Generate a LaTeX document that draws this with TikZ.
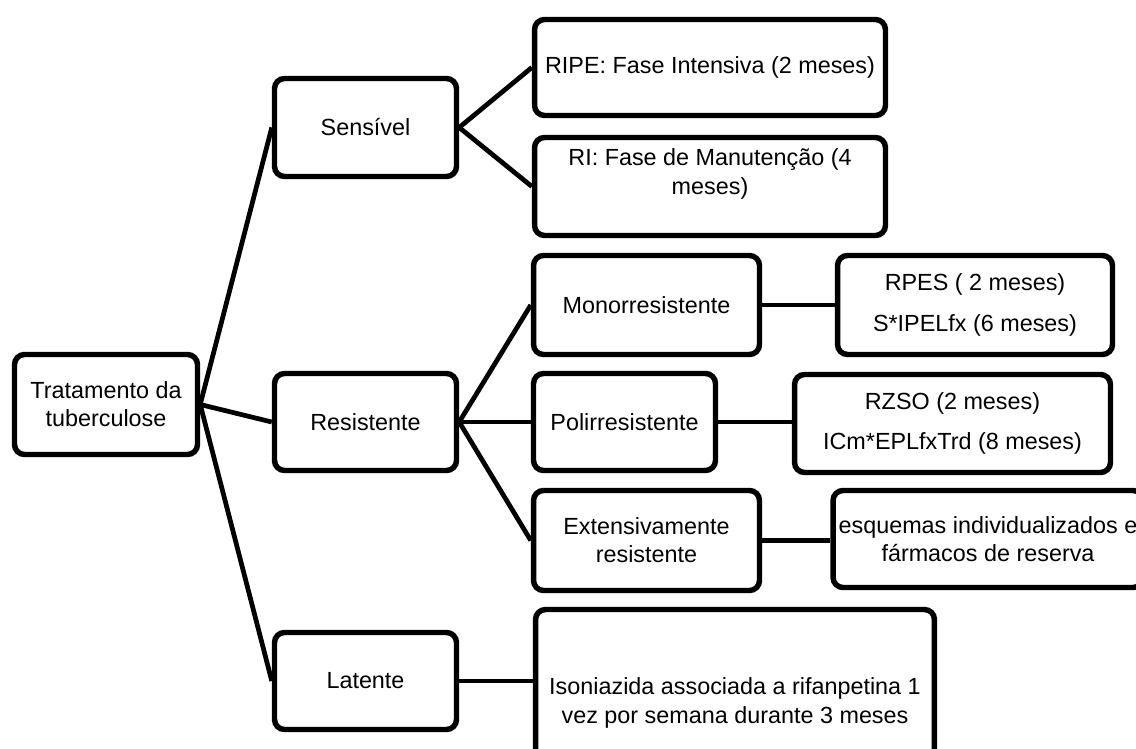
\documentclass[tikz,border=0pt]{standalone}
\usepackage{fontspec}
\setmainfont{Liberation Sans}
\usepackage{tikz}

\begin{document}
\begin{tikzpicture}[x=0.02cm,y=-0.02cm,
box/.style={draw,line width=3.1pt,rounded corners=0.2cm,align=center,inner sep=2pt,font=\fontsize{13.3}{16}\selectfont},
txt/.style={align=center,inner sep=0pt,font=\fontsize{13.3}{16}\selectfont},
link/.style={line width=2.7pt}]
\useasboundingbox (0,0) rectangle (1136,749);

\node[box,minimum width=3.66cm,minimum height=2cm] (root) at (106,404.5) {Tratamento da\\tuberculose};

\node[box,minimum width=3.64cm,minimum height=1.96cm] (sens) at (365.5,127.5) {Sensível};
\node[box,minimum width=3.64cm,minimum height=1.94cm] (res) at (365.5,422) {Resistente};
\node[box,minimum width=3.64cm,minimum height=1.94cm] (lat) at (365.5,681) {Latente};

\node[box,minimum width=7.02cm,minimum height=1.92cm] (ripe) at (710,67.5) {RIPE: Fase Intensiva (2 meses)};
\node[box,minimum width=7.02cm,minimum height=1.96cm] (ri) at (710,186.5) {};
\node[txt] (ri text) at (710,174) {RI: Fase de Manutenção (4\\meses)};

\node[box,minimum width=4.52cm,minimum height=1.98cm] (mono) at (646.5,305) {Monorresistente};
\node[box,minimum width=3.64cm,minimum height=1.94cm] (poli) at (624.5,422) {Polirresistente};
\node[box,minimum width=4.52cm,minimum height=2cm] (ext) at (646.5,540.5) {Extensivamente\\resistente};

\node[box,minimum width=5.5cm,minimum height=1.98cm] (rpes) at (975,305) {RPES ( 2 meses)\\[7pt]S*IPELfx (6 meses)};
\node[box,minimum width=6.32cm,minimum height=1.96cm] (rzso) at (952.5,423.5) {RZSO (2 meses)\\[7pt]ICm*EPLfxTrd (8 meses)};
\node[box,minimum width=6.2cm,minimum height=1.94cm] (esq) at (988,539) {esquemas individualizados e\\fármacos de reserva};

\node[box,minimum width=7.98cm,minimum height=3.74cm] (iso) at (735,703) {Isoniazida associada a rifanpetina 1\\vez por semana durante 3 meses};

% ligacoes
\draw[link] (root.east) -- (sens.west);
\draw[link] (root.east) -- (res.west);
\draw[link] (root.east) -- (lat.west);
\draw[link] (sens.east) -- (ripe.west);
\draw[link] (sens.east) -- (ri.west);
\draw[link] (res.east) -- (mono.west);
\draw[link] (res.east) -- (poli.west);
\draw[link] (res.east) -- (ext.west);
\draw[link] (mono.east) -- (mono.east -| rpes.west);
\draw[link] (poli.east) -- (poli.east -| rzso.west);
\draw[link] (ext.east) -- (ext.east -| esq.west);
\draw[link] (lat.east) -- (lat.east -| iso.west);
\end{tikzpicture}
\end{document}
